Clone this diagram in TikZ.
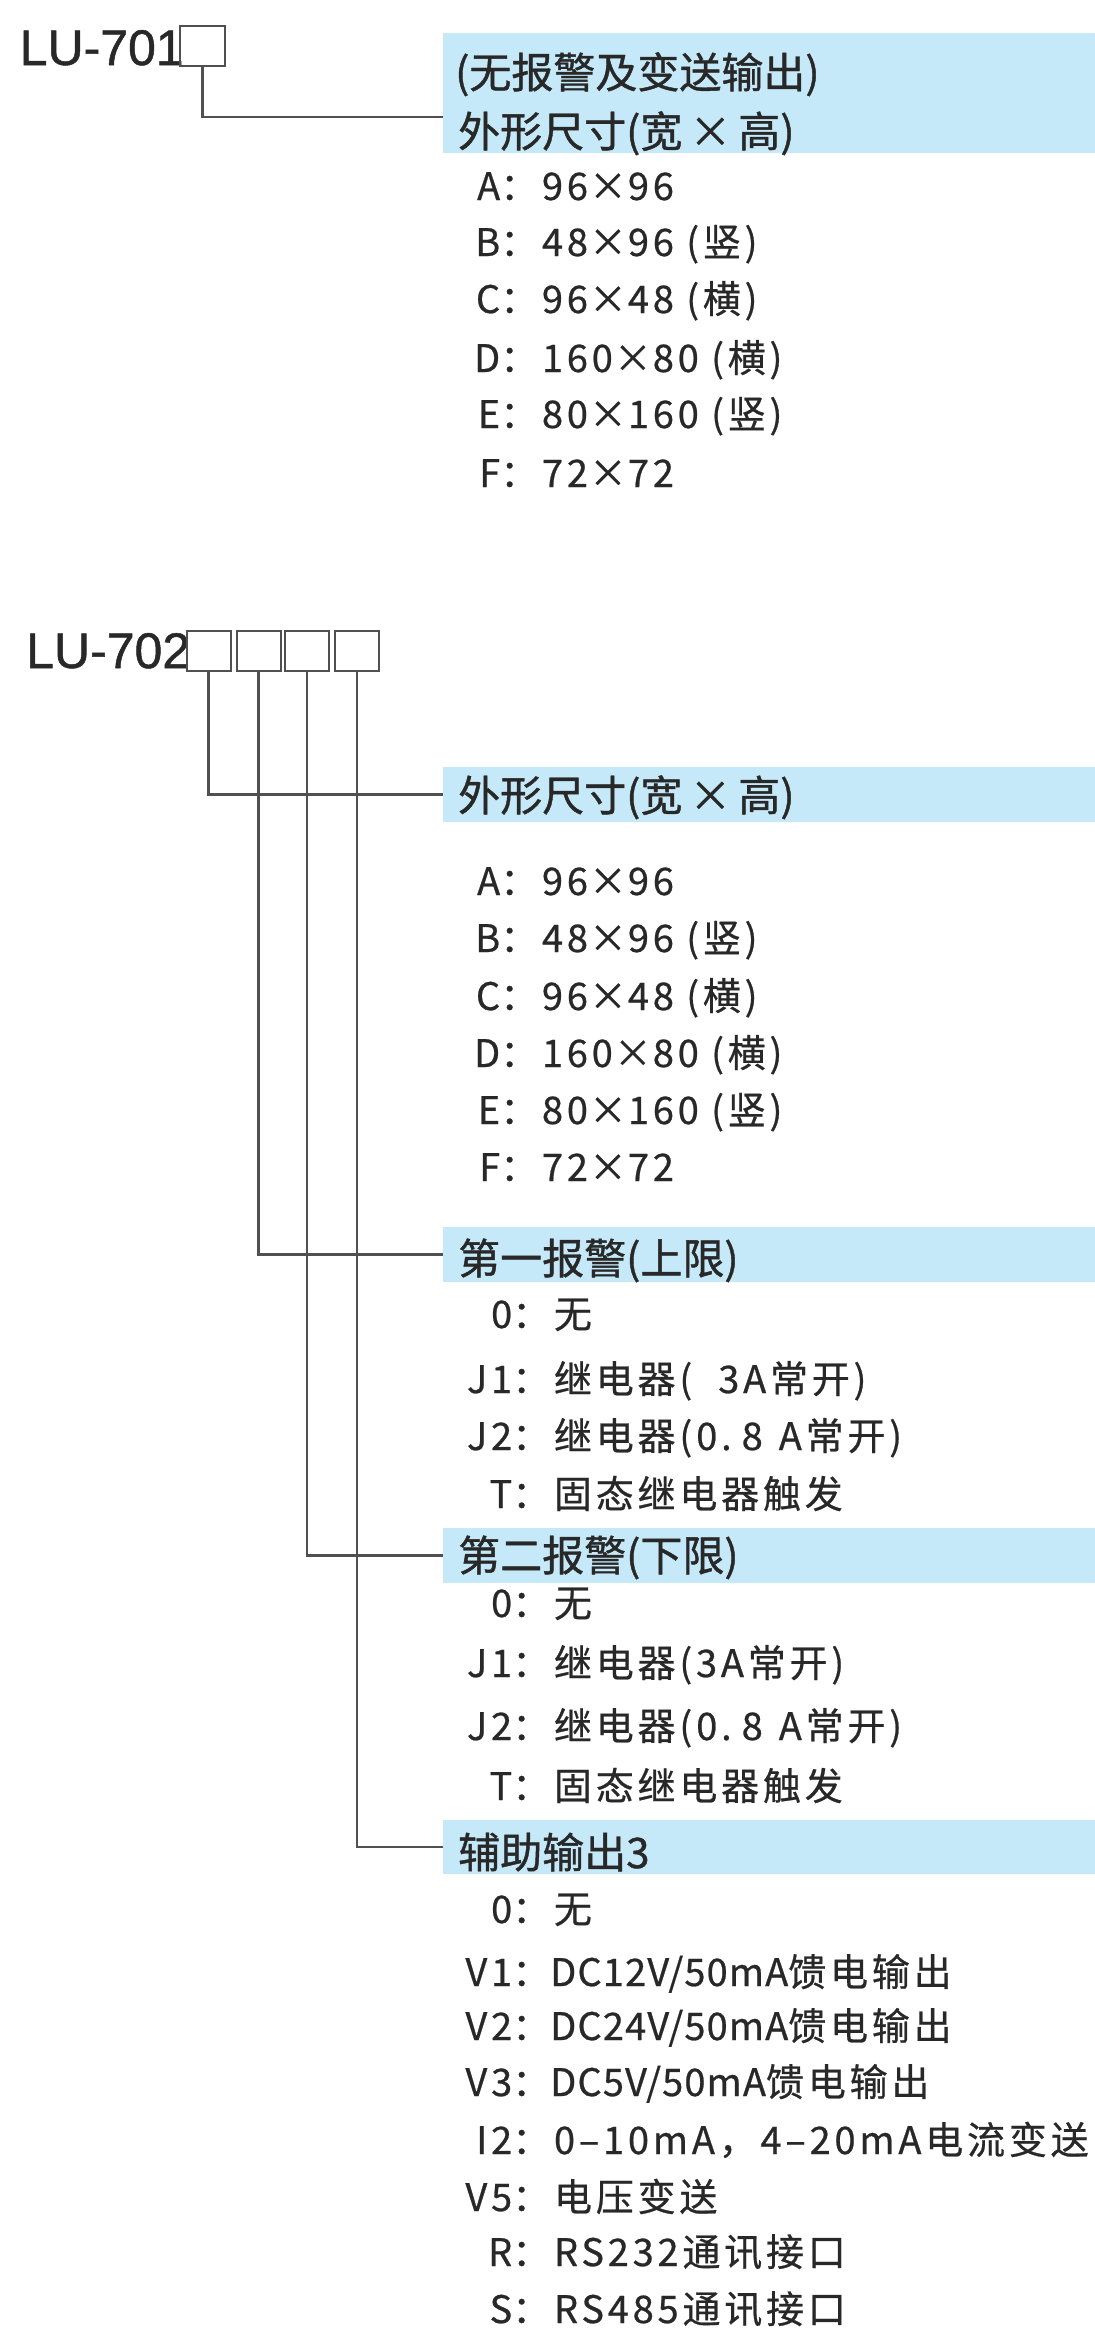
\documentclass[tikz,border=0pt]{standalone}
\usepackage{fontspec}
\setmainfont{Liberation Sans}
\newfontfamily\modelfont[FakeBold=1]{Liberation Sans}
\newfontfamily\cjkhead[FakeBold=1]{Noto Sans CJK SC}
\newfontfamily\cjkitem[LetterSpace=10,FakeBold=0.6]{Noto Sans CJK SC}
\definecolor{bandblue}{RGB}{197,233,248}
\definecolor{inkc}{RGB}{40,40,40}
\definecolor{wirec}{RGB}{80,80,80}
\tikzset{
  model/.style={anchor=base west, inner sep=0pt, font=\modelfont\fontsize{50}{50}\selectfont, text=inkc},
  slot/.style={draw=wirec, line width=2pt, minimum width=44pt, minimum height=40pt, inner sep=0pt},
  bandbox/.style={fill=bandblue, inner sep=0pt, anchor=north west, minimum width=652pt},
  head/.style={anchor=base west, inner sep=0pt, font=\cjkhead\fontsize{42}{42}\selectfont, text=inkc},
  opt/.style={anchor=base west, inner sep=0pt, font=\cjkitem\fontsize{38}{38}\selectfont, text=inkc},
  wirel/.style={draw=wirec, line width=2.5pt},
}
\newcommand\optA[2]{\makebox[34pt][r]{#1}：#2}
\newcommand\optB[2]{\makebox[52pt][r]{#1}：#2}
\newcommand\tm{\hspace{1pt}×\hspace{1pt}}
\newcommand\lat[1]{{\addfontfeature{LetterSpace=3}#1}}
\begin{document}
\begin{tikzpicture}[x=1pt,y=-1pt]
\useasboundingbox (0,0) rectangle (1095,2335);
\fill[white] (0,0) rectangle (1095,2335);

% ---------- LU-701 ----------
\node[model] (lu701) at (19.5,65) {LU-701};
\node[slot, minimum width=45pt] (b701) at (202.5,46) {};
\node[bandbox, minimum height=120pt] (h1) at (443,33) {};
\node[head] (h1a) at (455,88) {(无报警及变送输出)};
\node[head] (h1b) at (458,147) {外形尺寸(宽\,×\,高)};
\coordinate (j701) at (443,117);
\draw[wirel] (b701.south) |- (j701);

\node[opt] (a1) at (466,200) {\optA{A}{96\tm96}};
\node[opt] (a2) at (466,256) {\optA{B}{48\tm96 (竖)}};
\node[opt] (a3) at (466,313) {\optA{C}{96\tm48 (横)}};
\node[opt] (a4) at (466,372) {\optA{D}{160\tm80 (横)}};
\node[opt] (a5) at (466,428) {\optA{E}{80\tm160 (竖)}};
\node[opt] (a6) at (466,487) {\optA{F}{72\tm72}};

% ---------- LU-702 ----------
\node[model] (lu702) at (26,668) {LU-702};
\node[slot] (s1) at (208.5,651) {};
\node[slot] (s2) at (258.5,651) {};
\node[slot] (s3) at (307,651) {};
\node[slot] (s4) at (357,651) {};

\node[bandbox, minimum height=55pt] (h2) at (443,767) {};
\node[head] (h2a) at (458,811) {外形尺寸(宽\,×\,高)};
\node[bandbox, minimum height=55pt] (h3) at (443,1227) {};
\node[head] (h3a) at (458,1274) {第一报警(上限)};
\node[bandbox, minimum height=55pt] (h4) at (443,1528) {};
\node[head] (h4a) at (458,1571) {第二报警(下限)};
\node[bandbox, minimum height=54pt] (h5) at (443,1820) {};
\node[head] (h5a) at (458,1868) {辅助输出3};

\draw[wirel] (s1.south) |- (h2.west);
\draw[wirel] (s2.south) |- (h3.west);
\draw[wirel] (s3.south) |- (h4.west);
\draw[wirel] (s4.south) |- (h5.west);

\node[opt] (c1) at (466,895) {\optA{A}{96\tm96}};
\node[opt] (c2) at (466,952) {\optA{B}{48\tm96 (竖)}};
\node[opt] (c3) at (466,1010) {\optA{C}{96\tm48 (横)}};
\node[opt] (c4) at (466,1067) {\optA{D}{160\tm80 (横)}};
\node[opt] (c5) at (466,1124) {\optA{E}{80\tm160 (竖)}};
\node[opt] (c6) at (466,1181) {\optA{F}{72\tm72}};

\node[opt] (d1) at (460,1328) {\optB{0}{无}};
\node[opt] (d2) at (460,1393) {\optB{J1}{继电器(\hspace{26pt}3A常开)}};
\node[opt] (d3) at (460,1450) {\optB{J2}{继电器(\hspace{4pt}0.\hspace{10pt}8\hspace{16pt}A常开)}};
\node[opt] (d4) at (460,1508) {\optB{T}{固态继电器触发}};

\node[opt] (e1) at (460,1617) {\optB{0}{无}};
\node[opt] (e2) at (460,1677) {\optB{J1}{继电器(3A常开)}};
\node[opt] (e3) at (460,1740) {\optB{J2}{继电器(\hspace{4pt}0.\hspace{10pt}8\hspace{16pt}A常开)}};
\node[opt] (e4) at (460,1800) {\optB{T}{固态继电器触发}};

\node[opt] (f1) at (460,1923) {\optB{0}{无}};
\node[opt] (f2) at (460,1986) {\optB{V1}{\lat{DC12V/50mA}馈电输出}};
\node[opt] (f3) at (460,2040) {\optB{V2}{\lat{DC24V/50mA}馈电输出}};
\node[opt] (f4) at (460,2096) {\optB{V3}{\lat{DC5V/50mA}馈电输出}};
\node[opt] (f5) at (460,2154) {\optB{I2}{0–10mA，4–20mA电流变送}};
\node[opt] (f6) at (460,2211) {\optB{V5}{电压变送}};
\node[opt] (f7) at (460,2266) {\optB{R}{RS232通讯接口}};
\node[opt] (f8) at (460,2323) {\optB{S}{RS485通讯接口}};
\end{tikzpicture}
\end{document}
